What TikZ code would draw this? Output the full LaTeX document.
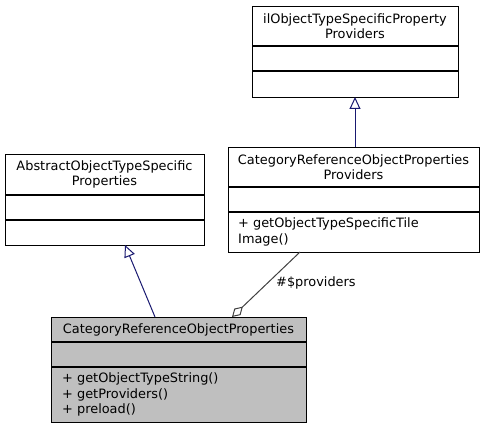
\documentclass[tikz,border=0pt]{standalone}
\usepackage{fontspec}
\setmainfont{DejaVu Sans}
\usetikzlibrary{arrows.meta}
\definecolor{navyline}{HTML}{191970}
\definecolor{greyline}{HTML}{404040}
\definecolor{greyfill}{HTML}{BFBFBF}
\begin{document}
\begin{tikzpicture}[x=1pt,y=1pt,
  box/.style={draw=black, line width=1.1pt, anchor=north west, inner sep=0pt},
  txt/.style={inner sep=0pt, font=\fontsize{12.9}{15.5}\selectfont, align=center},
  mtxt/.style={inner sep=0pt, font=\fontsize{12.9}{15.5}\selectfont, align=left, anchor=west},
  inh/.style={draw=navyline, line width=1pt, -{Triangle[open, length=12pt, width=11pt]}},
  agg/.style={draw=greyline, line width=1pt, -{Diamond[open, length=15pt, width=9pt]}}]
\useasboundingbox (0,0) rectangle (488,-428);
% box 1
\node[box, minimum width=206, minimum height=91] (iface) at (252,-6) {};
\draw[line width=1.1pt] (252,-46) -- (458,-46) (252,-71) -- (458,-71);
\node[txt] (ifacet) at (355,-26) {ilObjectTypeSpecificProperty\\Providers};
% box 2
\node[box, minimum width=251, minimum height=105] (prov) at (228,-147) {};
\draw[line width=1.1pt] (228,-187) -- (479,-187) (228,-212) -- (479,-212);
\node[txt] (provt) at (353.5,-167) {CategoryReferenceObjectProperties\\Providers};
\node[mtxt] (provm) at (238,-232) {+ getObjectTypeSpecificTile\\Image()};
% box 3
\node[box, minimum width=199, minimum height=91] (abs) at (5,-154) {};
\draw[line width=1.1pt] (5,-195) -- (204,-195) (5,-220) -- (204,-220);
\node[txt] (abst) at (104.5,-174.5) {AbstractObjectTypeSpecific\\Properties};
% box 4
\node[box, fill=greyfill, minimum width=255, minimum height=105] (cat) at (51,-317) {};
\draw[line width=1.1pt] (51,-342) -- (306,-342) (51,-367) -- (306,-367);
\node[txt] (catt) at (178.5,-329.5) {CategoryReferenceObjectProperties};
\node[mtxt] (catm) at (62,-394.5) {+ getObjectTypeString()\\+ getProviders()\\+ preload()};
% connectors
\coordinate (p1) at (355,-147);
\coordinate (p2) at (355,-97);
\draw[inh] (p1) -- (p2);
\coordinate (c1) at (155,-317);
\coordinate (c2) at (125,-245);
\draw[inh] (c1) -- (c2);
\coordinate (a1) at (300,-252);
\coordinate (a2) at (232,-317);
\draw[agg] (a1) -- (a2);
\node[mtxt] (lbl) at (276,-283) {\#\$providers};
\end{tikzpicture}
\end{document}
